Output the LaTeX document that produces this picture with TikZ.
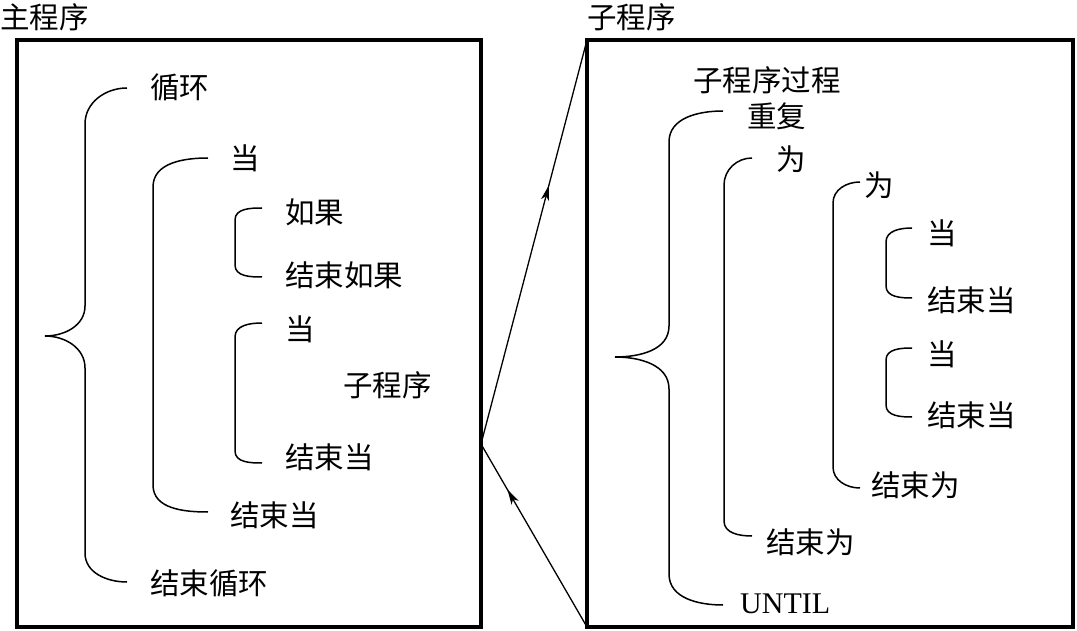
\documentclass[tikz,border=0pt]{standalone}
\usepackage{fontspec}
\setmainfont{Noto Sans CJK SC}
\newfontfamily\latinserif{Liberation Serif}
\usetikzlibrary{arrows.meta,decorations.markings}
\begin{document}
\begin{tikzpicture}[x=1pt,y=-1pt,
  lbl/.style={anchor=west,inner sep=0pt,font=\fontsize{29.5}{31}\selectfont,text height=0.86em,text depth=0.14em,yshift=-8.5pt},
  boxframe/.style={draw,line width=3.5pt,inner sep=0pt,outer sep=0pt,anchor=north west},
  brace/.style={line width=1.5pt},
  link/.style={line width=1.3pt},
  midarrow/.style={postaction={decorate},decoration={markings,mark=at position #1 with {\arrow{Stealth[length=15pt,width=8pt,inset=4pt]}}}}
]
\useasboundingbox (0,0) rectangle (1077,631);
% frames
\node[boxframe,minimum width=464pt,minimum height=587pt] (leftbox) at (17,40) {};
\node[boxframe,minimum width=486pt,minimum height=587pt] (rightbox) at (587,40) {};
% titles
\node[lbl] (t1) at (0,16) {主程序};
\node[lbl] (t2) at (587,16) {子程序};
% left contents
\node[lbl] (l1) at (150,86) {循环};
\node[lbl] (l2) at (230,157) {当};
\node[lbl] (l3) at (285,211) {如果};
\node[lbl] (l4) at (285,274) {结束如果};
\node[lbl] (l5) at (285,328) {当};
\node[lbl] (l6) at (343,384) {子程序};
\node[lbl] (l7) at (285,456) {结束当};
\node[lbl] (l8) at (230,514) {结束当};
\node[lbl] (l9) at (150,582) {结束循环};
% left braces
\draw[brace] (127,88) to[out=180,in=90] (85,124) -- (85,306) to[out=-90,in=0] (45,336)
  to[out=0,in=90] (85,368) -- (85,553) to[out=-90,in=180] (127,582);
\draw[brace] (208,158) to[out=180,in=90] (153,187) -- (153,485) to[out=-90,in=180] (208,512);
\draw[brace] (262,208) to[out=180,in=90] (235,220) -- (235,265) to[out=-90,in=180] (262,277);
\draw[brace] (262,323) to[out=180,in=90] (235,337) -- (235,451) to[out=-90,in=180] (262,463);
% right contents
\node[lbl] (r0) at (693,79) {子程序过程};
\node[lbl] (r1) at (747,115) {重复};
\node[lbl] (r2) at (776,158) {为};
\node[lbl] (r3) at (864,184) {为};
\node[lbl] (r4) at (927,232) {当};
\node[lbl] (r5) at (927,299) {结束当};
\node[lbl] (r6) at (927,353) {当};
\node[lbl] (r7) at (927,414) {结束当};
\node[lbl] (r8) at (871,484) {结束为};
\node[lbl] (r9) at (766,541) {结束为};
\node[anchor=west,inner sep=0pt,font=\latinserif\fontsize{30}{32}\selectfont] (r10) at (740,604) {UNTIL};
% right braces
\draw[brace] (723,111) to[out=180,in=90] (669,142) -- (669,326) to[out=-90,in=0] (615,357)
  to[out=0,in=90] (669,389) -- (669,574) to[out=-90,in=180] (723,605);
\draw[brace] (752,158) to[out=180,in=90] (724,185) -- (724,521) to[out=-90,in=180] (752,536);
\draw[brace] (860,182) to[out=180,in=90] (833,203) -- (833,467) to[out=-90,in=180] (860,488);
\draw[brace] (912,228) to[out=180,in=90] (886,242) -- (886,286) to[out=-90,in=180] (912,298);
\draw[brace] (912,348) to[out=180,in=90] (886,360) -- (886,405) to[out=-90,in=180] (912,417);
% connectors
\coordinate (apex) at (481,444);
\draw[link,midarrow=0.64] (apex) -- (rightbox.north west);
\draw[link,midarrow=0.75] (rightbox.south west) -- (apex);
\end{tikzpicture}
\end{document}
